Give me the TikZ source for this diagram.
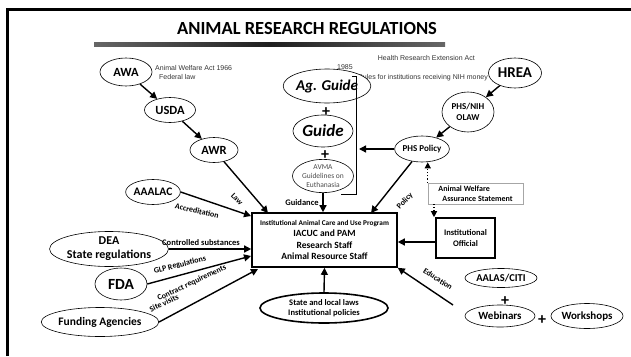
\documentclass[tikz,border=0pt]{standalone}
\usepackage{fontspec}
\setmainfont{Carlito}
\newfontfamily\arialf{Liberation Sans}
\usetikzlibrary{shapes.geometric,arrows.meta,calc}
\begin{document}
\begin{tikzpicture}[x=1pt,y=-1pt,
  ell/.style={draw, ellipse, inner sep=0pt, line width=0.6pt, fill=white, font=\bfseries, align=center},
  arr/.style={line width=1.4pt, -{Triangle[length=7pt,width=7pt]}},
  dotarr/.style={line width=1.2pt, dotted, -{Triangle[length=6pt,width=6pt]}},
  lbl/.style={font=\bfseries\fontsize{8}{9}\selectfont, inner sep=0pt},
  plus/.style={font=\bfseries\fontsize{16}{16}\selectfont, inner sep=0pt},
  small/.style={font=\arialf\fontsize{7}{8}\selectfont, text=black!80, inner sep=0pt},
]
\useasboundingbox (0,0) rectangle (631,356);
% frame
\draw[line width=3pt] (7,356) -- (7,9) -- (631,9);
% title
\node[font=\bfseries\fontsize{18.5}{20}\selectfont, inner sep=0pt] (title) at (307,29) {ANIMAL RESEARCH REGULATIONS};
\shade[left color=black!60, right color=black!60, middle color=black!88] (94,42.5) rectangle (445,46.5);

% left chain
\node[ell, minimum width=52pt, minimum height=28pt, font=\bfseries\fontsize{12.5}{13}\selectfont] (awa) at (126,72) {AWA};
\node[ell, minimum width=51pt, minimum height=25pt, font=\bfseries\fontsize{12.5}{13}\selectfont] (usda) at (170,110) {USDA};
\node[ell, minimum width=48pt, minimum height=25pt, font=\bfseries\fontsize{12.5}{13}\selectfont] (awr) at (214,150) {AWR};
\node[small, anchor=base west] (awatxt1) at (155,70) {Animal Welfare Act 1966};
\node[small, anchor=base west] (awatxt2) at (159,79) {Federal law};

% HREA text
\node[small, anchor=base east] (hrtxt1) at (475,60) {Health Research Extension Act};
\node[small, anchor=base west] (hrtxt2) at (337,69) {1985};
\node[small, anchor=base east] (hrtxt3) at (488,79) {Rules for institutions receiving NIH money};

% guides
\node[ell, minimum width=68pt, minimum height=34pt, font=\bfseries\itshape\fontsize{15}{16}\selectfont] (agguide) at (327,86) {Ag. Guide};
\node[plus] (plus1) at (326,112) {+};
\node[ell, minimum width=60pt, minimum height=32pt, font=\bfseries\itshape\fontsize{17}{18}\selectfont] (guide) at (323,131) {Guide};
\node[plus] (plus2) at (325,155) {+};
\node[ell, minimum width=61pt, minimum height=32pt, font=\fontsize{7.5}{9.3}\selectfont, text=black!70] (avma) at (323,176) {AVMA\\Guidelines on\\Euthanasia};
\draw[line width=1.8pt] (352,76.5) -- (356.5,76.5) -- (356.5,194.5) -- (341,194.5);

% right chain
\node[ell, minimum width=53pt, minimum height=30pt, font=\bfseries\fontsize{15}{16}\selectfont] (hrea) at (515,73) {HREA};
\node[ell, minimum width=52pt, minimum height=40pt, font=\bfseries\fontsize{9}{11}\selectfont] (phsnih) at (468,112) {PHS/NIH\\OLAW};
\node[ell, minimum width=52pt, minimum height=26pt, font=\bfseries\fontsize{9}{10}\selectfont] (phspol) at (422,149) {PHS Policy};
\draw[arr] (awa) -- (usda);
\draw[arr] (usda) -- (awr);
\draw[arr] (hrea) -- (phsnih);
\draw[arr] (phsnih) -- (phspol);
\coordinate (brk) at (359,149);
\draw[arr] (phspol.west) -- (brk);

% main box
\node[draw, line width=1.6pt, minimum width=145pt, minimum height=54pt, align=center, inner sep=0pt,
  font=\bfseries\fontsize{9.5}{11.2}\selectfont] (box) at (324.5,240)
  {{\fontsize{7.3}{9}\selectfont Institutional Animal Care and Use Program}\\IACUC and PAM\\Research Staff\\Animal Resource Staff};

% left sources
\node[ell, minimum width=50pt, minimum height=25pt, font=\bfseries\fontsize{11.5}{12}\selectfont] (aaalac) at (153,192) {AAALAC};
\node[ell, minimum width=98pt, minimum height=35pt, font=\bfseries\fontsize{12}{14}\selectfont] (dea) at (109,249) {DEA\\State regulations};
\node[ell, minimum width=52pt, minimum height=32pt, font=\bfseries\fontsize{15.5}{16}\selectfont] (fda) at (121,284) {FDA};
\node[ell, minimum width=105pt, minimum height=29pt, font=\bfseries\fontsize{11.5}{12}\selectfont] (funding) at (100,322) {Funding Agencies};

\coordinate (lawend) at (268,213);
\coordinate (accend) at (251,216);
\coordinate (glpend) at (251,256);
\coordinate (conend) at (258,269);
\coordinate (polend) at (371,213);
\draw[arr] (awr) -- (lawend);
\draw[arr] (aaalac.east) -- (accend);
\draw[arr] (dea.east) -- (dea.east -| box.west);
\draw[arr] (fda.east) -- (glpend);
\draw[arr] (funding.east) -- (conend);
\draw[arr] (avma.south) -- (avma.south |- box.north);
\draw[arr] (phspol) -- (polend);

\node[lbl, rotate=-45] (lawl) at (237,199) {Law};
\node[lbl, rotate=-13] (accl) at (197,211) {Accreditation};
\node[lbl, font=\bfseries\fontsize{8.5}{9}\selectfont] (ctrl) at (201,243) {Controlled substances};
\node[lbl, rotate=14] (glpl) at (180,265) {GLP Regulations};
\node[lbl, rotate=25] (conl) at (192,283) {Contract requirements};
\node[lbl, rotate=25] (sitel) at (164,303) {Site visits};
\node[lbl, font=\bfseries\fontsize{8.5}{9}\selectfont] (guidl) at (302,203) {Guidance};
\node[lbl, rotate=47] (poll) at (405,201) {Policy};

% assurance & official
\node[draw=black!35, line width=0.5pt, minimum width=95pt, minimum height=21pt, inner sep=0pt, align=left,
  font=\bfseries\fontsize{8}{10}\selectfont] (aws) at (475.5,193.5) {Animal Welfare\hspace{40pt}\\\hspace{4pt}Assurance Statement};
\node[draw, line width=1.6pt, minimum width=59pt, minimum height=40pt, inner sep=0pt, align=center,
  font=\bfseries\fontsize{8.5}{11}\selectfont] (io) at (465.5,238) {Institutional\\Official};
\draw[dotarr] (aws.north west) -- (aws.north west |- phspol.south);
\coordinate (d2s) at (434,204);
\draw[dotarr] (d2s) -- (d2s |- io.north);
\coordinate (ioout) at (436,242);
\draw[arr] (ioout) -- (ioout -| box.east);

% education
\node[ell, minimum width=72pt, minimum height=19pt, font=\bfseries\fontsize{10.5}{11}\selectfont] (aalas) at (501,278) {AALAS/CITI};
\node[plus] (plus3) at (505,301) {+};
\node[ell, minimum width=70pt, minimum height=22pt, font=\bfseries\fontsize{11}{12}\selectfont] (webinars) at (500,316) {Webinars};
\node[plus] (plus4) at (542,320) {+};
\node[ell, minimum width=70pt, minimum height=25pt, font=\bfseries\fontsize{11}{12}\selectfont] (workshops) at (587,316) {Workshops};
\coordinate (edus) at (453,305);
\draw[arr] (edus) -- (box.south east);
\node[lbl, rotate=-33] (edul) at (438,279) {Education};

% state
\node[ell, line width=1.6pt, minimum width=128pt, minimum height=30pt, font=\bfseries\fontsize{8.5}{10.5}\selectfont] (state) at (324,308) {State and local laws\\Institutional policies};
\draw[arr] (state.north) -- (box.south);
\end{tikzpicture}
\end{document}
